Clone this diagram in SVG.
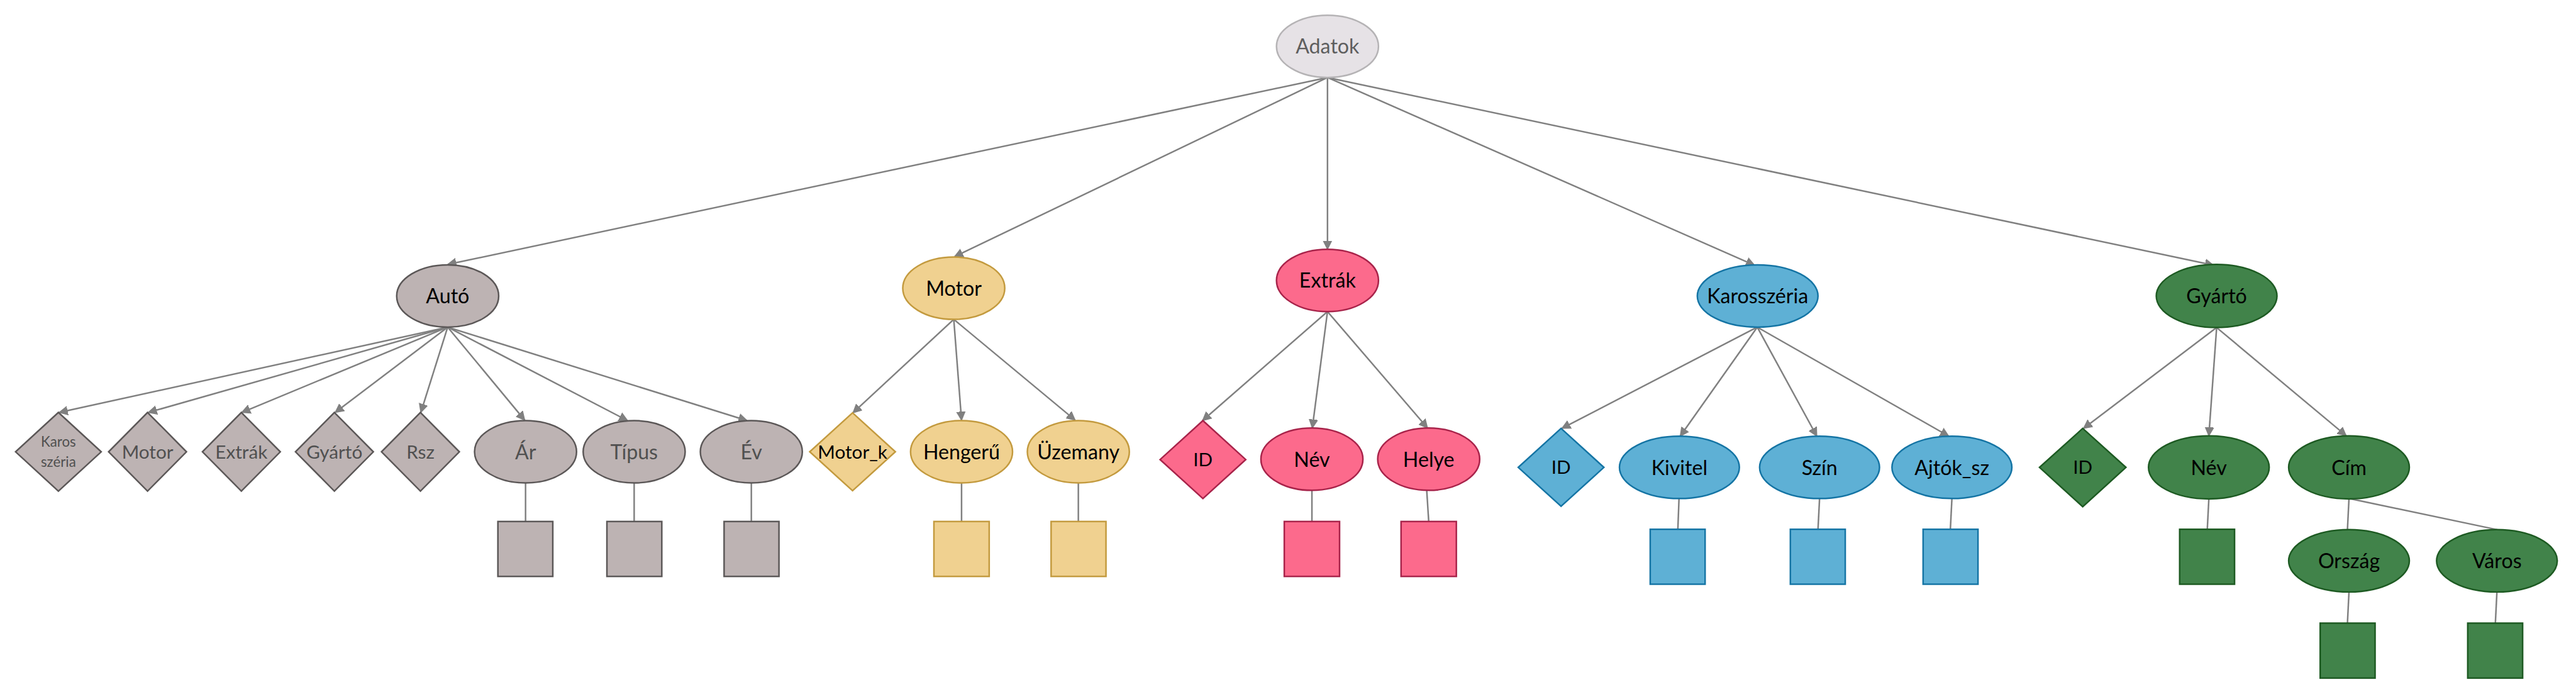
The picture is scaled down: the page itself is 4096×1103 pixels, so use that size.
<svg xmlns="http://www.w3.org/2000/svg" width="4096" height="1103" viewBox="0 0 4096 1103">
<defs>
<marker id="arr" viewBox="0 0 10 10" refX="10" refY="5" markerUnits="userSpaceOnUse" markerWidth="22" markerHeight="28" orient="auto">
<path d="M0,0 L10,5 L0,10 z" fill="#808080" stroke="#808080" stroke-width="1" stroke-linejoin="round"/>
</marker>
<style>
text{font-family:Lato,"Open Sans","Liberation Sans",sans-serif;text-anchor:middle}
.t{font-size:52px}
.d{font-size:48px}
.s{font-size:36px}
.conn line{stroke:#808080;stroke-width:4;fill:none}
.conn .a{marker-end:url(#arr)}
.root *{fill:#e6e2e6;stroke:#b5b3b5;stroke-width:4}
.root text{fill:#5e5e5e;stroke:none}
.gy ellipse,.gy polygon,.gy rect{fill:#bdb3b3;stroke:#5b5757;stroke-width:4}
.gy text{fill:#505050}
.gy .k{fill:#000}
.mo ellipse,.mo polygon,.mo rect{fill:#f0d190;stroke:#c39a3e;stroke-width:4}
.ex ellipse,.ex polygon,.ex rect{fill:#fc6a8c;stroke:#a8234a;stroke-width:4}
.ka ellipse,.ka polygon,.ka rect{fill:#5eb0d5;stroke:#1474a4;stroke-width:4}
.gr ellipse,.gr polygon,.gr rect{fill:#41834a;stroke:#1d5a22;stroke-width:4}
.mo text,.ex text,.ka text,.gr text{fill:#000}
</style>
</defs>
<rect width="4096" height="1103" fill="#fff"/>
<g transform="scale(0.619)">
<g class="conn" id="connectors">
<line class="a" x1="3410" y1="199" x2="1150" y2="679"/>
<line class="a" x1="3410" y1="199" x2="2452" y2="659"/>
<line class="a" x1="3410" y1="199" x2="3410" y2="640"/>
<line class="a" x1="3410" y1="199" x2="4507" y2="681"/>
<line class="a" x1="3410" y1="199" x2="5686" y2="681"/>
<line class="a" x1="1150" y1="840" x2="152" y2="1059"/>
<line class="a" x1="1150" y1="840" x2="381" y2="1059"/>
<line class="a" x1="1150" y1="840" x2="621" y2="1059"/>
<line class="a" x1="1150" y1="840" x2="861" y2="1059"/>
<line class="a" x1="1150" y1="840" x2="1081" y2="1059"/>
<line class="a" x1="1150" y1="840" x2="1348" y2="1079"/>
<line class="a" x1="1150" y1="840" x2="1612" y2="1080"/>
<line class="a" x1="1150" y1="840" x2="1919" y2="1080"/>
<line x1="1350" y1="1240" x2="1350" y2="1339"/>
<line x1="1629" y1="1240" x2="1629" y2="1339"/>
<line x1="1930" y1="1240" x2="1930" y2="1339"/>
<line class="a" x1="2450" y1="820" x2="2191" y2="1060"/>
<line class="a" x1="2450" y1="820" x2="2470" y2="1079"/>
<line class="a" x1="2450" y1="820" x2="2762" y2="1079"/>
<line x1="2470" y1="1240" x2="2470" y2="1339"/>
<line x1="2770" y1="1240" x2="2770" y2="1339"/>
<line class="a" x1="3410" y1="800" x2="3089" y2="1080"/>
<line class="a" x1="3410" y1="800" x2="3371" y2="1099"/>
<line class="a" x1="3410" y1="800" x2="3667" y2="1099"/>
<line x1="3370" y1="1260" x2="3370" y2="1339"/>
<line x1="3665" y1="1260" x2="3670" y2="1339"/>
<line class="a" x1="4514" y1="840" x2="4012" y2="1100"/>
<line class="a" x1="4514" y1="840" x2="4316" y2="1120"/>
<line class="a" x1="4514" y1="840" x2="4667" y2="1120"/>
<line class="a" x1="4514" y1="840" x2="5006" y2="1120"/>
<line x1="4313" y1="1280" x2="4310" y2="1359"/>
<line x1="4674" y1="1280" x2="4670" y2="1359"/>
<line x1="5014" y1="1280" x2="5010" y2="1359"/>
<line class="a" x1="5694" y1="841" x2="5352" y2="1100"/>
<line class="a" x1="5694" y1="841" x2="5674" y2="1119"/>
<line class="a" x1="5694" y1="841" x2="6027" y2="1119"/>
<line x1="5674" y1="1281" x2="5670" y2="1359"/>
<line x1="6034" y1="1280" x2="6030" y2="1360"/>
<line x1="6034" y1="1280" x2="6415" y2="1360"/>
<line x1="6034" y1="1520" x2="6030" y2="1600"/>
<line x1="6414" y1="1520" x2="6410" y2="1600"/>
</g>

<g id="adatok" class="root"><ellipse cx="3410" cy="119" rx="131" ry="80"/><text class="t" x="3410" y="138">Adatok</text></g>

<g class="gy">
<g id="auto"><ellipse cx="1150" cy="760" rx="131" ry="80"/><text class="t k" x="1150" y="779">Autó</text></g>
<g id="auto-karos"><polygon points="150,1059 260,1160 150,1261 40,1160"/><text class="s" x="150" y="1147">Karos</text><text class="s" x="150" y="1198">széria</text></g>
<g id="auto-motor"><polygon points="379,1059 479,1160 379,1261 279,1160"/><text class="d" x="379" y="1177">Motor</text></g>
<g id="auto-extrak"><polygon points="620,1059 720,1160 620,1261 520,1160"/><text class="d" x="620" y="1177">Extrák</text></g>
<g id="auto-gyarto"><polygon points="859,1059 959,1160 859,1261 759,1160"/><text class="d" x="859" y="1177">Gyártó</text></g>
<g id="auto-rsz"><polygon points="1080,1059 1180,1160 1080,1261 980,1160"/><text class="d" x="1080" y="1177">Rsz</text></g>
<g id="auto-ar"><ellipse cx="1350" cy="1160" rx="131" ry="80"/><text class="t" x="1350" y="1179">Ár</text></g>
<g id="auto-tipus"><ellipse cx="1629" cy="1160" rx="131" ry="80"/><text class="t" x="1629" y="1179">Típus</text></g>
<g id="auto-ev"><ellipse cx="1930" cy="1160" rx="131" ry="80"/><text class="t" x="1930" y="1179">Év</text></g>
<g id="auto-ar-v"><rect x="1279" y="1339" width="141" height="141"/></g>
<g id="auto-tipus-v"><rect x="1559" y="1339" width="141" height="141"/></g>
<g id="auto-ev-v"><rect x="1860" y="1339" width="141" height="141"/></g>
</g>

<g class="mo">
<g id="motor"><ellipse cx="2450" cy="740" rx="131" ry="80"/><text class="t" x="2450" y="759">Motor</text></g>
<g id="motor-k"><polygon points="2190,1060 2300,1160 2190,1260 2080,1160"/><text class="d" x="2190" y="1177">Motor_k</text></g>
<g id="motor-hengeru"><ellipse cx="2470" cy="1160" rx="131" ry="80"/><text class="t" x="2470" y="1179">Hengerű</text></g>
<g id="motor-uzemany"><ellipse cx="2770" cy="1160" rx="131" ry="80"/><text class="t" x="2770" y="1179">Üzemany</text></g>
<g id="motor-hengeru-v"><rect x="2399" y="1339" width="142" height="141"/></g>
<g id="motor-uzemany-v"><rect x="2700" y="1339" width="141" height="141"/></g>
</g>

<g class="ex">
<g id="extrak"><ellipse cx="3410" cy="720" rx="131" ry="80"/><text class="t" x="3410" y="739">Extrák</text></g>
<g id="extrak-id"><polygon points="3090,1080 3200,1180 3090,1280 2980,1180"/><text class="d" x="3090" y="1197">ID</text></g>
<g id="extrak-nev"><ellipse cx="3370" cy="1179" rx="131" ry="80"/><text class="t" x="3370" y="1198">Név</text></g>
<g id="extrak-helye"><ellipse cx="3670" cy="1179" rx="131" ry="80"/><text class="t" x="3670" y="1198">Helye</text></g>
<g id="extrak-nev-v"><rect x="3299" y="1339" width="142" height="141"/></g>
<g id="extrak-helye-v"><rect x="3599" y="1339" width="142" height="141"/></g>
</g>

<g class="ka">
<g id="karosszeria"><ellipse cx="4515" cy="760" rx="155" ry="80"/><text class="t" x="4515" y="779">Karosszéria</text></g>
<g id="karosszeria-id"><polygon points="4010,1100 4120,1200 4010,1300 3900,1200"/><text class="d" x="4010" y="1217">ID</text></g>
<g id="karosszeria-kivitel"><ellipse cx="4314" cy="1200" rx="154" ry="80"/><text class="t" x="4314" y="1219">Kivitel</text></g>
<g id="karosszeria-szin"><ellipse cx="4674" cy="1200" rx="154" ry="80"/><text class="t" x="4674" y="1219">Szín</text></g>
<g id="karosszeria-ajtok"><ellipse cx="5014" cy="1200" rx="154" ry="80"/><text class="t" x="5014" y="1219">Ajtók_sz</text></g>
<g id="karosszeria-kivitel-v"><rect x="4239" y="1359" width="141" height="141"/></g>
<g id="karosszeria-szin-v"><rect x="4599" y="1359" width="141" height="141"/></g>
<g id="karosszeria-ajtok-v"><rect x="4940" y="1359" width="141" height="141"/></g>
</g>

<g class="gr">
<g id="gyarto"><ellipse cx="5694" cy="760" rx="155" ry="81"/><text class="t" x="5694" y="779">Gyártó</text></g>
<g id="gyarto-id"><polygon points="5350,1100 5461,1200 5350,1301 5239,1200"/><text class="d" x="5350" y="1217">ID</text></g>
<g id="gyarto-nev"><ellipse cx="5674" cy="1200" rx="155" ry="81"/><text class="t" x="5674" y="1219">Név</text></g>
<g id="gyarto-cim"><ellipse cx="6034" cy="1200" rx="155" ry="81"/><text class="t" x="6034" y="1219">Cím</text></g>
<g id="gyarto-orszag"><ellipse cx="6034" cy="1440" rx="155" ry="80"/><text class="t" x="6034" y="1459">Ország</text></g>
<g id="gyarto-varos"><ellipse cx="6414" cy="1440" rx="155" ry="80"/><text class="t" x="6414" y="1459">Város</text></g>
<g id="gyarto-nev-v"><rect x="5599" y="1359" width="141" height="141"/></g>
<g id="gyarto-orszag-v"><rect x="5960" y="1600" width="141" height="141"/></g>
<g id="gyarto-varos-v"><rect x="6339" y="1600" width="141" height="141"/></g>
</g>
</g>
</svg>
